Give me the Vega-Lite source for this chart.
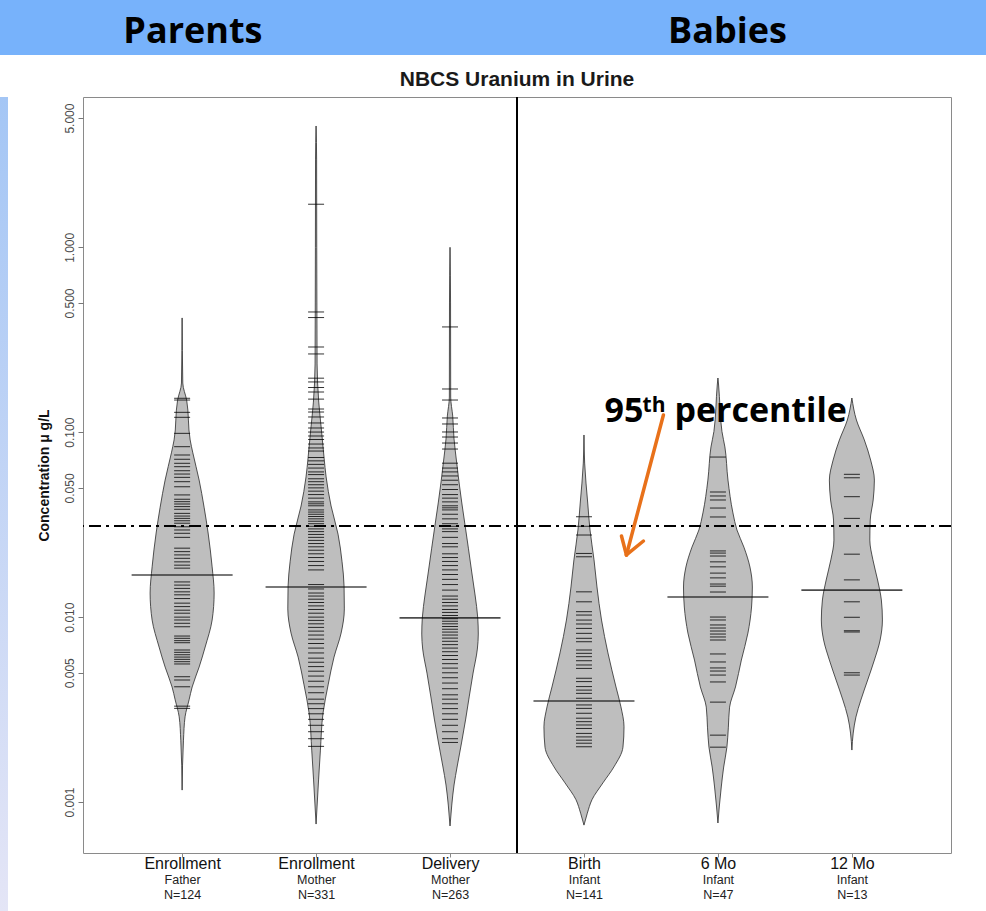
{
  "$schema": "https://vega.github.io/schema/vega-lite/v6.json",
  "padding": 0,
  "background": "white",
  "columns": 1,
  "align": "none",
  "spacing": 0,
  "config": {
    "font": "Liberation Sans",
    "view": {"stroke": null},
    "axis": {"labelFont": "Liberation Sans", "titleFont": "Liberation Sans", "grid": false}
  },
  "datasets": {
    "header": [{"t": "Parents", "x": 1.1}, {"t": "Babies", "x": 5.09}],
    "beans": [
      {"g":1,"c":0.415,"w":0},{"g":1,"c":0.1845,"w":0.005},{"g":1,"c":0.149,"w":0.034},{"g":1,"c":0.0908,"w":0.06},{"g":1,"c":0.0773,"w":0.08},{"g":1,"c":0.0551,"w":0.127},{"g":1,"c":0.0393,"w":0.164},{"g":1,"c":0.0285,"w":0.194},{"g":1,"c":0.0187,"w":0.224},{"g":1,"c":0.0135,"w":0.239},{"g":1,"c":0.00964,"w":0.224},{"g":1,"c":0.00689,"w":0.172},{"g":1,"c":0.00537,"w":0.127},{"g":1,"c":0.00419,"w":0.075},{"g":1,"c":0.00357,"w":0.052},{"g":1,"c":0.00289,"w":0.022},{"g":1,"c":0.00216,"w":0.01},{"g":1,"c":0.00116,"w":0},
      {"g":2,"c":4.53,"w":0},{"g":2,"c":3.0,"w":0.004},{"g":2,"c":1.0,"w":0.005},{"g":2,"c":0.5,"w":0.006},{"g":2,"c":0.234,"w":0.0075},{"g":2,"c":0.1455,"w":0.02},{"g":2,"c":0.1028,"w":0.04},{"g":2,"c":0.0724,"w":0.06},{"g":2,"c":0.0573,"w":0.075},{"g":2,"c":0.0399,"w":0.112},{"g":2,"c":0.0281,"w":0.164},{"g":2,"c":0.0199,"w":0.194},{"g":2,"c":0.0147,"w":0.209},{"g":2,"c":0.01107,"w":0.211},{"g":2,"c":0.0082,"w":0.187},{"g":2,"c":0.00608,"w":0.134},{"g":2,"c":0.0043,"w":0.09},{"g":2,"c":0.00303,"w":0.052},{"g":2,"c":0.00189,"w":0.032},{"g":2,"c":0.00133,"w":0.019},{"g":2,"c":0.00076,"w":0},
      {"g":3,"c":1.0,"w":0},{"g":3,"c":0.5,"w":0.004},{"g":3,"c":0.155,"w":0.005},{"g":3,"c":0.1224,"w":0.02},{"g":3,"c":0.0919,"w":0.03},{"g":3,"c":0.0682,"w":0.05},{"g":3,"c":0.0538,"w":0.067},{"g":3,"c":0.0419,"w":0.087},{"g":3,"c":0.0315,"w":0.112},{"g":3,"c":0.0236,"w":0.137},{"g":3,"c":0.01754,"w":0.162},{"g":3,"c":0.01317,"w":0.187},{"g":3,"c":0.00989,"w":0.207},{"g":3,"c":0.0081,"w":0.211},{"g":3,"c":0.00672,"w":0.204},{"g":3,"c":0.00498,"w":0.172},{"g":3,"c":0.00374,"w":0.144},{"g":3,"c":0.00281,"w":0.117},{"g":3,"c":0.00211,"w":0.087},{"g":3,"c":0.001566,"w":0.054},{"g":3,"c":0.001236,"w":0.03},{"g":3,"c":0.000963,"w":0.013},{"g":3,"c":0.000742,"w":0},
      {"g":4,"c":0.0966,"w":0},{"g":4,"c":0.0681,"w":0.005},{"g":4,"c":0.0414,"w":0.028},{"g":4,"c":0.0296,"w":0.045},{"g":4,"c":0.0204,"w":0.075},{"g":4,"c":0.01456,"w":0.097},{"g":4,"c":0.00964,"w":0.131},{"g":4,"c":0.0064,"w":0.179},{"g":4,"c":0.00419,"w":0.239},{"g":4,"c":0.00327,"w":0.276},{"g":4,"c":0.00255,"w":0.299},{"g":4,"c":0.00198,"w":0.291},{"g":4,"c":0.00155,"w":0.224},{"g":4,"c":0.00127,"w":0.142},{"g":4,"c":0.00103,"w":0.06},{"g":4,"c":0.00087,"w":0.025},{"g":4,"c":0.00075,"w":0},
      {"g":5,"c":0.1964,"w":0},{"g":5,"c":0.18,"w":0.005},{"g":5,"c":0.1009,"w":0.03},{"g":5,"c":0.0832,"w":0.052},{"g":5,"c":0.0551,"w":0.075},{"g":5,"c":0.0366,"w":0.112},{"g":5,"c":0.0296,"w":0.142},{"g":5,"c":0.0239,"w":0.194},{"g":5,"c":0.01866,"w":0.239},{"g":5,"c":0.01455,"w":0.257},{"g":5,"c":0.01134,"w":0.251},{"g":5,"c":0.0082,"w":0.224},{"g":5,"c":0.00586,"w":0.175},{"g":5,"c":0.00419,"w":0.131},{"g":5,"c":0.00326,"w":0.087},{"g":5,"c":0.00254,"w":0.078},{"g":5,"c":0.00198,"w":0.067},{"g":5,"c":0.001546,"w":0.043},{"g":5,"c":0.001206,"w":0.025},{"g":5,"c":0.00094,"w":0.01},{"g":5,"c":0.00077,"w":0},
      {"g":6,"c":0.1531,"w":0},{"g":6,"c":0.1164,"w":0.034},{"g":6,"c":0.0908,"w":0.093},{"g":6,"c":0.0707,"w":0.14},{"g":6,"c":0.0551,"w":0.168},{"g":6,"c":0.043,"w":0.159},{"g":6,"c":0.0335,"w":0.137},{"g":6,"c":0.0261,"w":0.134},{"g":6,"c":0.0204,"w":0.157},{"g":6,"c":0.01587,"w":0.192},{"g":6,"c":0.01238,"w":0.22},{"g":6,"c":0.00965,"w":0.228},{"g":6,"c":0.00752,"w":0.211},{"g":6,"c":0.00586,"w":0.168},{"g":6,"c":0.00457,"w":0.118},{"g":6,"c":0.00356,"w":0.067},{"g":6,"c":0.00288,"w":0.03},{"g":6,"c":0.00236,"w":0.01},{"g":6,"c":0.00191,"w":0}
    ],
    "points": [
      {"g":1,"c":0.1526},{"g":1,"c":0.1493},{"g":1,"c":0.1281},{"g":1,"c":0.1204},{"g":1,"c":0.0986},{"g":1,"c":0.0835},{"g":1,"c":0.0753},{"g":1,"c":0.0714},{"g":1,"c":0.0679},{"g":1,"c":0.0651},{"g":1,"c":0.0619},{"g":1,"c":0.0594},{"g":1,"c":0.057},{"g":1,"c":0.054},{"g":1,"c":0.0507},{"g":1,"c":0.0458},{"g":1,"c":0.0434},{"g":1,"c":0.0421},{"g":1,"c":0.0409},{"g":1,"c":0.0396},{"g":1,"c":0.0383},{"g":1,"c":0.0364},{"g":1,"c":0.0352},{"g":1,"c":0.0342},{"g":1,"c":0.0332},{"g":1,"c":0.0322},{"g":1,"c":0.0308},{"g":1,"c":0.0296},{"g":1,"c":0.0284},{"g":1,"c":0.027},{"g":1,"c":0.0236},{"g":1,"c":0.0226},{"g":1,"c":0.0217},{"g":1,"c":0.0208},{"g":1,"c":0.0199},{"g":1,"c":0.0191},{"g":1,"c":0.0184},{"g":1,"c":0.0155},{"g":1,"c":0.0149},{"g":1,"c":0.0143},{"g":1,"c":0.0137},{"g":1,"c":0.0132},{"g":1,"c":0.0126},{"g":1,"c":0.0119},{"g":1,"c":0.0114},{"g":1,"c":0.0109},{"g":1,"c":0.0105},{"g":1,"c":0.01},{"g":1,"c":0.00965},{"g":1,"c":0.00926},{"g":1,"c":0.00887},{"g":1,"c":0.0079},{"g":1,"c":0.00768},{"g":1,"c":0.00746},{"g":1,"c":0.00727},{"g":1,"c":0.00664},{"g":1,"c":0.00645},{"g":1,"c":0.00626},{"g":1,"c":0.00608},{"g":1,"c":0.00591},{"g":1,"c":0.00574},{"g":1,"c":0.00558},{"g":1,"c":0.00476},{"g":1,"c":0.00457},{"g":1,"c":0.0042},{"g":1,"c":0.0033},{"g":1,"c":0.00321},
      {"g":2,"c":1.71},{"g":2,"c":0.447},{"g":2,"c":0.417},{"g":2,"c":0.289},{"g":2,"c":0.265},{"g":2,"c":0.196},{"g":2,"c":0.187},{"g":2,"c":0.1745},{"g":2,"c":0.165},{"g":2,"c":0.151},{"g":2,"c":0.1335},{"g":2,"c":0.1286},{"g":2,"c":0.1209},{"g":2,"c":0.1122},{"g":2,"c":0.1054},{"g":2,"c":0.1002},{"g":2,"c":0.0954},{"g":2,"c":0.0913},{"g":2,"c":0.0863},{"g":2,"c":0.0822},{"g":2,"c":0.0791},{"g":2,"c":0.073},{"g":2,"c":0.07},{"g":2,"c":0.067},{"g":2,"c":0.064},{"g":2,"c":0.061},{"g":2,"c":0.059},{"g":2,"c":0.056},{"g":2,"c":0.054},{"g":2,"c":0.052},{"g":2,"c":0.05},{"g":2,"c":0.048},{"g":2,"c":0.046},{"g":2,"c":0.044},{"g":2,"c":0.042},{"g":2,"c":0.041},{"g":2,"c":0.04},{"g":2,"c":0.038},{"g":2,"c":0.037},{"g":2,"c":0.036},{"g":2,"c":0.035},{"g":2,"c":0.034},{"g":2,"c":0.033},{"g":2,"c":0.032},{"g":2,"c":0.031},{"g":2,"c":0.03},{"g":2,"c":0.029},{"g":2,"c":0.028},{"g":2,"c":0.027},{"g":2,"c":0.026},{"g":2,"c":0.025},{"g":2,"c":0.024},{"g":2,"c":0.023},{"g":2,"c":0.022},{"g":2,"c":0.021},{"g":2,"c":0.02},{"g":2,"c":0.019},{"g":2,"c":0.018},{"g":2,"c":0.015},{"g":2,"c":0.0142},{"g":2,"c":0.0135},{"g":2,"c":0.013},{"g":2,"c":0.0125},{"g":2,"c":0.012},{"g":2,"c":0.0115},{"g":2,"c":0.011},{"g":2,"c":0.0105},{"g":2,"c":0.01},{"g":2,"c":0.0096},{"g":2,"c":0.0092},{"g":2,"c":0.0088},{"g":2,"c":0.0084},{"g":2,"c":0.008},{"g":2,"c":0.0076},{"g":2,"c":0.0072},{"g":2,"c":0.0068},{"g":2,"c":0.0064},{"g":2,"c":0.006},{"g":2,"c":0.0057},{"g":2,"c":0.0054},{"g":2,"c":0.0051},{"g":2,"c":0.0048},{"g":2,"c":0.0045},{"g":2,"c":0.0042},{"g":2,"c":0.0039},{"g":2,"c":0.0036},{"g":2,"c":0.0034},{"g":2,"c":0.0032},{"g":2,"c":0.003},{"g":2,"c":0.0028},{"g":2,"c":0.0026},{"g":2,"c":0.0024},{"g":2,"c":0.0022},{"g":2,"c":0.002},
      {"g":3,"c":0.371},{"g":3,"c":0.1713},{"g":3,"c":0.1493},{"g":3,"c":0.1194},{"g":3,"c":0.1108},{"g":3,"c":0.1003},{"g":3,"c":0.0942},{"g":3,"c":0.0874},{"g":3,"c":0.0811},{"g":3,"c":0.068},{"g":3,"c":0.064},{"g":3,"c":0.061},{"g":3,"c":0.058},{"g":3,"c":0.055},{"g":3,"c":0.052},{"g":3,"c":0.049},{"g":3,"c":0.046},{"g":3,"c":0.044},{"g":3,"c":0.042},{"g":3,"c":0.04},{"g":3,"c":0.039},{"g":3,"c":0.038},{"g":3,"c":0.036},{"g":3,"c":0.034},{"g":3,"c":0.032},{"g":3,"c":0.031},{"g":3,"c":0.03},{"g":3,"c":0.029},{"g":3,"c":0.027},{"g":3,"c":0.025},{"g":3,"c":0.024},{"g":3,"c":0.022},{"g":3,"c":0.021},{"g":3,"c":0.02},{"g":3,"c":0.019},{"g":3,"c":0.018},{"g":3,"c":0.017},{"g":3,"c":0.016},{"g":3,"c":0.015},{"g":3,"c":0.014},{"g":3,"c":0.013},{"g":3,"c":0.0125},{"g":3,"c":0.012},{"g":3,"c":0.0115},{"g":3,"c":0.011},{"g":3,"c":0.0106},{"g":3,"c":0.0102},{"g":3,"c":0.0098},{"g":3,"c":0.0095},{"g":3,"c":0.0092},{"g":3,"c":0.0089},{"g":3,"c":0.0086},{"g":3,"c":0.0083},{"g":3,"c":0.008},{"g":3,"c":0.0077},{"g":3,"c":0.0074},{"g":3,"c":0.0071},{"g":3,"c":0.0068},{"g":3,"c":0.0065},{"g":3,"c":0.0062},{"g":3,"c":0.0059},{"g":3,"c":0.0056},{"g":3,"c":0.0053},{"g":3,"c":0.005},{"g":3,"c":0.0047},{"g":3,"c":0.0044},{"g":3,"c":0.0041},{"g":3,"c":0.0038},{"g":3,"c":0.0036},{"g":3,"c":0.0034},{"g":3,"c":0.0032},{"g":3,"c":0.003},{"g":3,"c":0.0028},{"g":3,"c":0.0026},{"g":3,"c":0.0024},{"g":3,"c":0.0022},{"g":3,"c":0.0021},
      {"g":4,"c":0.0349},{"g":4,"c":0.031},{"g":4,"c":0.0278},{"g":4,"c":0.0221},{"g":4,"c":0.0212},{"g":4,"c":0.0137},{"g":4,"c":0.0121},{"g":4,"c":0.0107},{"g":4,"c":0.01026},{"g":4,"c":0.00964},{"g":4,"c":0.00918},{"g":4,"c":0.00869},{"g":4,"c":0.00817},{"g":4,"c":0.00768},{"g":4,"c":0.00736},{"g":4,"c":0.00664},{"g":4,"c":0.00637},{"g":4,"c":0.00611},{"g":4,"c":0.00581},{"g":4,"c":0.00551},{"g":4,"c":0.00528},{"g":4,"c":0.00467},{"g":4,"c":0.00448},{"g":4,"c":0.00421},{"g":4,"c":0.00403},{"g":4,"c":0.00387},{"g":4,"c":0.00364},{"g":4,"c":0.00335},{"g":4,"c":0.00321},{"g":4,"c":0.00302},{"g":4,"c":0.00284},{"g":4,"c":0.00272},{"g":4,"c":0.00261},{"g":4,"c":0.0025},{"g":4,"c":0.00235},{"g":4,"c":0.00225},{"g":4,"c":0.00216},{"g":4,"c":0.00208},{"g":4,"c":0.00199},
      {"g":5,"c":0.0734},{"g":5,"c":0.0475},{"g":5,"c":0.0452},{"g":5,"c":0.043},{"g":5,"c":0.0389},{"g":5,"c":0.0348},{"g":5,"c":0.0228},{"g":5,"c":0.0222},{"g":5,"c":0.0214},{"g":5,"c":0.0199},{"g":5,"c":0.0187},{"g":5,"c":0.0173},{"g":5,"c":0.0163},{"g":5,"c":0.0151},{"g":5,"c":0.0147},{"g":5,"c":0.01367},{"g":5,"c":0.01001},{"g":5,"c":0.00965},{"g":5,"c":0.00907},{"g":5,"c":0.00873},{"g":5,"c":0.00841},{"g":5,"c":0.0081},{"g":5,"c":0.00781},{"g":5,"c":0.00752},{"g":5,"c":0.00632},{"g":5,"c":0.00572},{"g":5,"c":0.00531},{"g":5,"c":0.00511},{"g":5,"c":0.00486},{"g":5,"c":0.00446},{"g":5,"c":0.00347},{"g":5,"c":0.0023},{"g":5,"c":0.00198},
      {"g":6,"c":0.0592},{"g":6,"c":0.0567},{"g":6,"c":0.0448},{"g":6,"c":0.0342},{"g":6,"c":0.0219},{"g":6,"c":0.0159},{"g":6,"c":0.0121},{"g":6,"c":0.00998},{"g":6,"c":0.00844},{"g":6,"c":0.00831},{"g":6,"c":0.005},{"g":6,"c":0.00486}
    ],
    "medians": [{"g":1,"m":0.0169},{"g":2,"m":0.01455},{"g":3,"m":0.0099},{"g":4,"m":0.00352},{"g":5,"m":0.01285},{"g":6,"m":0.014}],
    "notes": [{"x":4.153,"y":0.1136,"t":"95","k":"main"},{"x":4.675,"y":0.1136,"t":"percentile","k":"main"},{"x":4.437,"y":0.1286,"t":"th","k":"sup"}],
    "arrow": [{"x":4.593,"y":0.1239,"x2":4.317,"y2":0.02168},{"x":4.317,"y":0.02168,"x2":4.28,"y2":0.02746},{"x":4.317,"y":0.02168,"x2":4.444,"y2":0.0258}]
  },
  "concat": [
    {
      "width": 986,
      "height": 55,
      "view": {"fill": "#77b2fb", "stroke": null},
      "data": {"name": "header"},
      "mark": {"type": "text", "font": "Open Sans", "fontWeight": "bold", "fontSize": 36, "align": "center", "baseline": "middle", "dy": 4, "color": "black"},
      "encoding": {
        "x": {"field": "x", "type": "quantitative", "scale": {"domain": [-0.34, 7.02], "nice": false, "zero": false}, "axis": null},
        "text": {"field": "t"}
      }
    },
    {
      "columns": 2,
      "align": "none",
      "spacing": 28,
      "concat": [
        {
          "width": 8,
          "height": 814,
          "view": {"fill": {"gradient": "linear", "x1": 0, "y1": 0, "x2": 0, "y2": 1, "stops": [{"offset": 0, "color": "#a4c6f5"}, {"offset": 1, "color": "#e4e5f6"}]}, "stroke": null},
          "data": {"values": [{"a": 1}]},
          "mark": {"type": "point", "opacity": 0},
          "encoding": {}
        },
        {
          "width": 868,
          "height": 756,
          "view": {"stroke": "#8a8a8a", "strokeWidth": 1},
          "title": {"text": ["", "NBCS Uranium in Urine"], "fontSize": 21, "font": "Liberation Sans", "fontWeight": "bold", "color": "#1a1a1a", "offset": 6, "lineHeight": 13},
          "resolve": {"axis": {"x": "independent"}},
          "layer": [
            {
              "data": {"name": "beans"},
              "transform": [
                {"calculate": "datum.g - datum.w", "as": "lo"},
                {"calculate": "datum.g + datum.w", "as": "hi"}
              ],
              "mark": {"type": "area", "orient": "horizontal", "interpolate": "monotone", "fill": "#bebebe", "stroke": "#2a2a2a", "strokeWidth": 0.8},
              "encoding": {
                "y": {"field": "c", "type": "quantitative", "scale": {"type": "log", "domain": [0.00053, 6.5], "nice": false},
                      "axis": {"values": [0.001, 0.005, 0.01, 0.05, 0.1, 0.5, 1, 5], "format": ".3f", "labelAngle": -90, "labelAlign": "center", "labelBaseline": "bottom", "labelFontSize": 12, "labelColor": "#4a4a4a", "labelPadding": 2, "tickSize": 5, "tickColor": "#777", "domain": false, "title": "Concentration μ g/L", "titleFontSize": 14, "titleFontWeight": "bold", "titleColor": "#111", "titlePadding": 12}},
                "x": {"field": "lo", "type": "quantitative", "scale": {"domain": [0.26, 6.74], "nice": false, "zero": false}, "axis": null},
                "x2": {"field": "hi"},
                "detail": {"field": "g"}
              }
            },
            {
              "data": {"name": "points"},
              "mark": {"type": "tick", "orient": "horizontal", "color": "black", "opacity": 0.8, "size": 16, "thickness": 1},
              "encoding": {
                "y": {"field": "c", "type": "quantitative", "scale": {"type": "log", "domain": [0.00053, 6.5], "nice": false}},
                "x": {"field": "g", "type": "quantitative", "scale": {"domain": [0.26, 6.74], "nice": false, "zero": false},
                      "axis": {"orient": "bottom", "values": [1, 2, 3, 4, 5, 6], "labelExpr": "[[''],['Father','N=124'],['Mother','N=331'],['Mother','N=263'],['Infant','N=141'],['Infant','N=47'],['Infant','N=13']][datum.value]", "labelFontSize": 12.5, "labelColor": "#222", "labelLineHeight": 15.5, "labelPadding": 20, "ticks": false, "domain": false, "title": null, "labelFlush": false, "labelOverlap": false}}
              }
            },
            {
              "data": {"name": "medians"},
              "mark": {"type": "tick", "orient": "horizontal", "color": "black", "size": 101, "thickness": 1.6},
              "encoding": {
                "y": {"field": "m", "type": "quantitative", "scale": {"type": "log", "domain": [0.00053, 6.5], "nice": false}},
                "x": {"field": "g", "type": "quantitative", "scale": {"domain": [0.26, 6.74], "nice": false, "zero": false},
                      "axis": {"orient": "bottom", "values": [1, 2, 3, 4, 5, 6], "labelExpr": "['','Enrollment','Enrollment','Delivery','Birth','6 Mo','12 Mo'][datum.value]", "labelFontSize": 16, "labelColor": "#111", "labelPadding": -2, "tickSize": 4, "tickColor": "#888", "domain": false, "title": null, "labelFlush": false, "labelOverlap": false}}
              }
            },
            {
              "data": {"values": [{"p": 0.0311}]},
              "mark": {"type": "rule", "color": "black", "strokeWidth": 2, "strokeDash": [12, 5, 3, 5]},
              "encoding": {
                "y": {"field": "p", "type": "quantitative", "scale": {"type": "log", "domain": [0.00053, 6.5], "nice": false}}
              }
            },
            {
              "data": {"values": [{"s": 3.5}]},
              "mark": {"type": "rule", "color": "black", "strokeWidth": 2},
              "encoding": {
                "x": {"field": "s", "type": "quantitative", "scale": {"domain": [0.26, 6.74], "nice": false, "zero": false}, "axis": null}
              }
            },
            {
              "data": {"name": "arrow"},
              "mark": {"type": "rule", "color": "#e8711a", "strokeWidth": 3.5, "strokeCap": "round"},
              "encoding": {
                "x": {"field": "x", "type": "quantitative", "scale": {"domain": [0.26, 6.74], "nice": false, "zero": false}, "axis": null},
                "y": {"field": "y", "type": "quantitative", "scale": {"type": "log", "domain": [0.00053, 6.5], "nice": false}},
                "x2": {"field": "x2"},
                "y2": {"field": "y2"}
              }
            },
            {
              "data": {"name": "notes"},
              "transform": [{"filter": "datum.k == 'main'"}],
              "mark": {"type": "text", "font": "Open Sans", "fontWeight": "bold", "fontSize": 34, "align": "left", "baseline": "alphabetic", "color": "black"},
              "encoding": {
                "x": {"field": "x", "type": "quantitative", "scale": {"domain": [0.26, 6.74], "nice": false, "zero": false}, "axis": null},
                "y": {"field": "y", "type": "quantitative", "scale": {"type": "log", "domain": [0.00053, 6.5], "nice": false}},
                "text": {"field": "t"}
              }
            },
            {
              "data": {"name": "notes"},
              "transform": [{"filter": "datum.k == 'sup'"}],
              "mark": {"type": "text", "font": "Open Sans", "fontWeight": "bold", "fontSize": 21, "align": "left", "baseline": "alphabetic", "color": "black"},
              "encoding": {
                "x": {"field": "x", "type": "quantitative", "scale": {"domain": [0.26, 6.74], "nice": false, "zero": false}, "axis": null},
                "y": {"field": "y", "type": "quantitative", "scale": {"type": "log", "domain": [0.00053, 6.5], "nice": false}},
                "text": {"field": "t"}
              }
            }
          ]
        }
      ]
    }
  ]
}
